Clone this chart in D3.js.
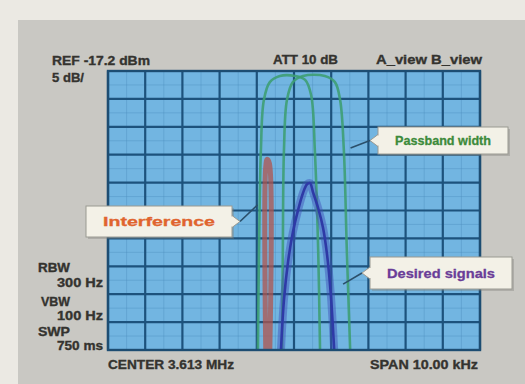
<!DOCTYPE html>
<html>
<head>
<meta charset="utf-8">
<script src="https://cdn.jsdelivr.net/npm/d3@7"></script>
<style>
  html, body { margin: 0; padding: 0; background: #ebe9e3; }
  svg { display: block; }
  .lbl { font-family: "Liberation Sans Narrow", "Liberation Sans", sans-serif; font-weight: bold; fill: #34332f; stroke: #34332f; stroke-width: 0.35; }
  .call { font-family: "Liberation Sans Narrow", "Liberation Sans", sans-serif; font-weight: bold; font-size: 13px; stroke-width: 0.3; }
</style>
</head>
<body>
<svg id="chart" width="525" height="384"></svg>
<script>
// analyzer settings
const refLevel = -17.2;      // dBm, top line
const dbPerDiv = 5;
const spanKHz = 10;
const divisions = [0, 1, 2, 3, 4, 5, 6, 7, 8, 9, 10];

// traces: [offset from center in kHz, level in dBm]
const passbandA = [
  [-0.97, -67.2], [-0.94, -49.3], [-0.89, -31.4], [-0.81, -22.4], [-0.65, -19.2], [-0.38, -18.1],
  [0.03, -18.1], [0.30, -18.8], [0.46, -21.5], [0.56, -31.4], [0.65, -49.3], [0.70, -67.2]
];
const passbandB = [
  [-0.32, -67.2], [-0.30, -49.3], [-0.27, -31.4], [-0.19, -22.4], [-0.03, -19.2], [0.24, -18.1],
  [0.83, -18.1], [1.10, -19.2], [1.24, -22.4], [1.34, -31.4], [1.42, -49.3], [1.51, -67.2]
];
const interference = [
  [-0.76, -67.2], [-0.76, -34.4], [-0.72, -33.0], [-0.66, -33.8], [-0.65, -67.2]
];
const desired = [
  [-0.35, -67.2], [-0.27, -58.2], [-0.16, -51.4], [-0.03, -46.1], [0.11, -42.1], [0.24, -39.1],
  [0.35, -37.5], [0.43, -37.3], [0.51, -38.9], [0.65, -41.8], [0.78, -45.3], [0.89, -50.2],
  [0.99, -57.3], [1.08, -67.2]
];

// screen texts
const topLeft = ['REF -17.2 dBm', '5 dB/'];
const topRight = ['ATT 10 dB', 'A_view B_view'];
const sideLabels = ['RBW', '300 Hz', 'VBW', '100 Hz', 'SWP', '750 ms'];
const bottomLabels = ['CENTER 3.613 MHz', 'SPAN 10.00 kHz'];

const svg = d3.select('#chart');
const plotL = 108, plotR = 480, plotT = 71, plotB = 350;

const x = d3.scaleLinear().domain([-spanKHz / 2, spanKHz / 2]).range([plotL, plotR]);
const y = d3.scaleLinear().domain([refLevel - 10 * dbPerDiv, refLevel]).range([plotB, plotT]);

// grey panel
svg.append('rect').attr('x', 18).attr('y', 20).attr('width', 507).attr('height', 364).attr('fill', '#c9c8c3');

// screen
svg.append('rect')
  .attr('x', plotL).attr('y', plotT)
  .attr('width', plotR - plotL).attr('height', plotB - plotT)
  .attr('fill', '#72b5e1');

// minor grid
const minor = [0.5, 1.5, 2.5, 3.5, 4.5, 5.5, 6.5, 7.5, 8.5, 9.5];
const grid = svg.append('g');
grid.selectAll('line.mx').data(minor).enter().append('line')
  .attr('x1', d => x(-spanKHz / 2 + d)).attr('x2', d => x(-spanKHz / 2 + d))
  .attr('y1', plotT).attr('y2', plotB)
  .attr('stroke', '#4d8fbf').attr('stroke-width', 1).attr('opacity', 0.4);
grid.selectAll('line.my').data(minor).enter().append('line')
  .attr('y1', d => y(refLevel - d * dbPerDiv)).attr('y2', d => y(refLevel - d * dbPerDiv))
  .attr('x1', plotL).attr('x2', plotR)
  .attr('stroke', '#4d8fbf').attr('stroke-width', 1).attr('opacity', 0.4);

// major grid
grid.selectAll('line.vx').data(divisions).enter().append('line')
  .attr('x1', d => x(-spanKHz / 2 + d)).attr('x2', d => x(-spanKHz / 2 + d))
  .attr('y1', plotT).attr('y2', plotB)
  .attr('stroke', '#1d527c').attr('stroke-width', 2.2);
grid.selectAll('line.hy').data(divisions).enter().append('line')
  .attr('y1', d => y(refLevel - d * dbPerDiv)).attr('y2', d => y(refLevel - d * dbPerDiv))
  .attr('x1', plotL).attr('x2', plotR)
  .attr('stroke', '#1d527c').attr('stroke-width', 2.2);

const line = d3.line()
  .x(d => x(d[0]))
  .y(d => y(d[1]))
  .curve(d3.curveCatmullRom.alpha(0.5));

const traces = svg.append('g');
// interference, broad muted bar
traces.append('path').attr('d', line(interference))
  .attr('fill', 'none').attr('stroke', '#b0564e').attr('stroke-width', 5).attr('opacity', 0.75);
// passbands
[passbandA, passbandB].forEach(p => {
  traces.append('path').attr('d', line(p))
    .attr('fill', 'none').attr('stroke', '#3e9f74').attr('stroke-width', 2.6).attr('opacity', 0.9);
});
// desired signal, wide noisy band
traces.append('path').attr('d', line(desired))
  .attr('fill', 'none').attr('stroke', '#3d4db8').attr('stroke-width', 8).attr('opacity', 0.45);
traces.append('path').attr('d', line(desired))
  .attr('fill', 'none').attr('stroke', '#2e3aa6').attr('stroke-width', 2.6);

// border
svg.append('rect')
  .attr('x', plotL).attr('y', plotT)
  .attr('width', plotR - plotL).attr('height', plotB - plotT)
  .attr('fill', 'none').attr('stroke', '#1d4d72').attr('stroke-width', 2.4);

// texts
const txt = svg.append('g').attr('class', 'lbl');
txt.append('text').attr('x', 52).attr('y', 65).attr('font-size', 13)
  .attr('textLength', 98).attr('lengthAdjust', 'spacingAndGlyphs').text(topLeft[0]);
txt.append('text').attr('x', 52).attr('y', 82).attr('font-size', 13)
  .attr('textLength', 32).attr('lengthAdjust', 'spacingAndGlyphs').text(topLeft[1]);
txt.append('text').attr('x', 273).attr('y', 64).attr('font-size', 13)
  .attr('textLength', 65).attr('lengthAdjust', 'spacingAndGlyphs').text(topRight[0]);
txt.append('text').attr('x', 376).attr('y', 64).attr('font-size', 13)
  .attr('textLength', 106).attr('lengthAdjust', 'spacingAndGlyphs').text(topRight[1]);

const sidePos = [[38, 272, 32], [57, 287, 46], [41, 306, 29], [57, 320, 46], [38, 336, 32], [57, 350, 46]];
sideLabels.forEach((s, i) => {
  txt.append('text').attr('x', sidePos[i][0]).attr('y', sidePos[i][1]).attr('font-size', 12)
    .attr('textLength', sidePos[i][2]).attr('lengthAdjust', 'spacingAndGlyphs').text(s);
});
txt.append('text').attr('x', 108).attr('y', 369).attr('font-size', 13)
  .attr('textLength', 126).attr('lengthAdjust', 'spacingAndGlyphs').text(bottomLabels[0]);
txt.append('text').attr('x', 370).attr('y', 369).attr('font-size', 13)
  .attr('textLength', 108).attr('lengthAdjust', 'spacingAndGlyphs').text(bottomLabels[1]);

// callouts
function callout(bx, by, bw, bh, side, tip, label, color) {
  const g = svg.append('g');
  const my = by + bh / 2;
  const ex = side === 'left' ? bx : bx + bw;
  const px = side === 'left' ? bx - 8 : bx + bw + 8;
  g.append('line')
    .attr('x1', px).attr('y1', my).attr('x2', x(tip[0])).attr('y2', y(tip[1]))
    .attr('stroke', '#2b4f6a').attr('stroke-width', 1.6);
  g.append('rect').attr('x', bx + 2).attr('y', by + 2).attr('width', bw).attr('height', bh)
    .attr('fill', '#7a7a76').attr('opacity', 0.35);
  g.append('path')
    .attr('d', `M${ex},${my - 6} L${px},${my} L${ex},${my + 6} Z`)
    .attr('fill', '#f3f1e7').attr('stroke', '#9a9a92').attr('stroke-width', 1);
  g.append('rect').attr('x', bx).attr('y', by).attr('width', bw).attr('height', bh)
    .attr('fill', '#f3f1e7').attr('stroke', '#9a9a92').attr('stroke-width', 1);
  g.append('path')
    .attr('d', `M${ex},${my - 5} L${ex},${my + 5}`)
    .attr('stroke', '#f3f1e7').attr('stroke-width', 2);
  g.append('text').attr('class', 'call')
    .attr('x', bx + bw / 2).attr('y', my + 4.5)
    .attr('text-anchor', 'middle').attr('fill', color).attr('stroke', color)
    .attr('textLength', bw - 34).attr('lengthAdjust', 'spacingAndGlyphs')
    .text(label);
}

callout(378, 127, 130, 27, 'left', [1.52, -31.0], 'Passband width', '#3c8a3a');
callout(86, 206, 146, 31, 'right', [-0.98, -41.2], 'Interference', '#e0642e');
callout(370, 257, 142, 32, 'left', [1.32, -55.4], 'Desired signals', '#6a3d98');
</script>
</body>
</html>
